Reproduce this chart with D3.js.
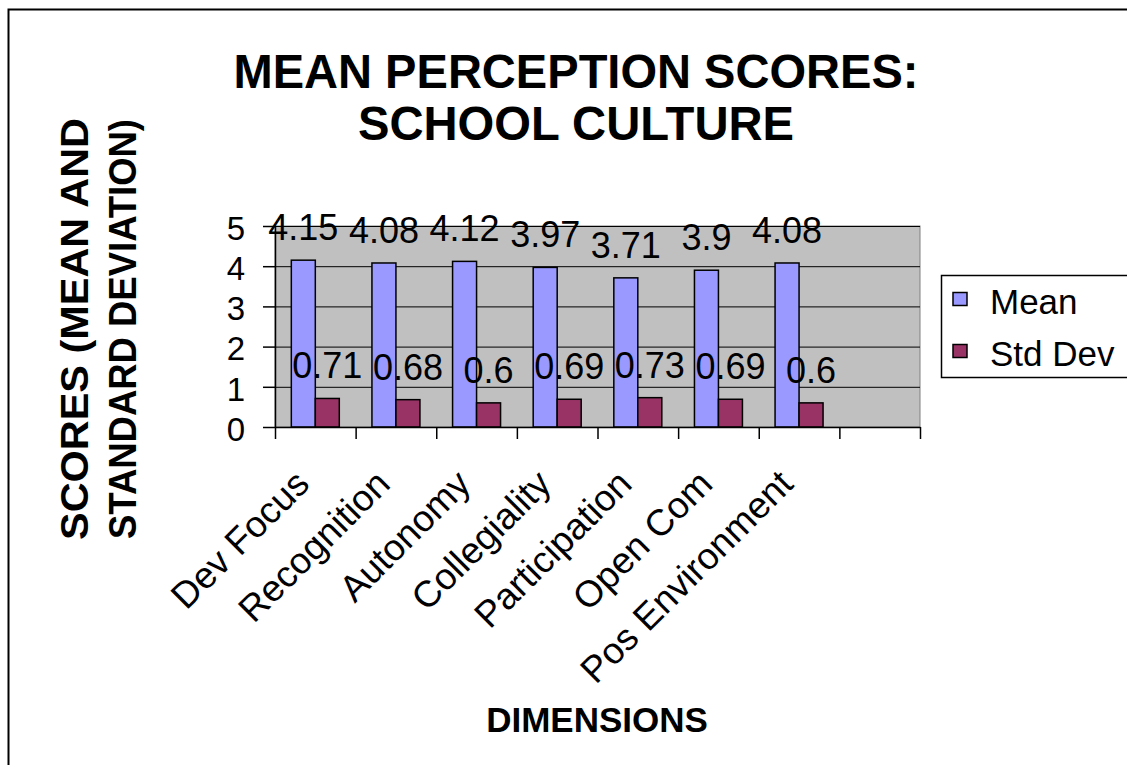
<!DOCTYPE html>
<html lang="en">
<head>
    <meta charset="UTF-8">
    <script src="https://d3js.org/d3.v7.min.js"></script>
    <title>Mean Perception Scores: School Culture</title>
    <style>
        body { margin: 0; background: #fff; }
        text { font-family: "Liberation Sans", Arial, sans-serif; fill: #000; }
    </style>
</head>
<body>
    <div id="container"></div>

    <script type="text/javascript">

        // chart values
        const categories = ["Dev Focus", "Recognition", "Autonomy", "Collegiality", "Participation", "Open Com", "Pos Environment"];
        const meanValues = [4.15, 4.08, 4.12, 3.97, 3.71, 3.9, 4.08];
        const stdValues = [0.71, 0.68, 0.6, 0.69, 0.73, 0.69, 0.6];
        const seriesNames = ["Mean", "Std Dev"];
        const seriesColors = ["#9999FF", "#993366"];
        const yTicks = [0, 1, 2, 3, 4, 5];

        const w = 1127, h = 765;
        const plot = { left: 275, right: 920, top: 226, bottom: 427 };

        const svg = d3.select("#container")
            .append("svg")
            .attr("width", w)
            .attr("height", h)
            .style("display", "block");

        // outer frame (right and bottom edges run off the page)
        svg.append("rect")
            .attr("x", 8.5)
            .attr("y", 9.5)
            .attr("width", 1140)
            .attr("height", 780)
            .attr("fill", "none")
            .attr("stroke", "#000")
            .attr("stroke-width", 2);

        // title
        svg.append("text")
            .attr("x", 576)
            .attr("y", 88)
            .attr("text-anchor", "middle")
            .style("font-size", "48px")
            .style("font-weight", "bold")
            .attr("textLength", 685)
            .attr("lengthAdjust", "spacingAndGlyphs")
            .text("MEAN PERCEPTION SCORES:");

        svg.append("text")
            .attr("x", 576)
            .attr("y", 140)
            .attr("text-anchor", "middle")
            .style("font-size", "48px")
            .style("font-weight", "bold")
            .attr("textLength", 436)
            .attr("lengthAdjust", "spacingAndGlyphs")
            .text("SCHOOL CULTURE");

        // scales: one empty slot after the last category
        const slots = categories.concat([""]);
        const x0 = d3.scaleBand()
            .domain(slots)
            .range([plot.left, plot.right]);

        const x1 = d3.scaleBand()
            .domain(seriesNames)
            .range([0, x0.bandwidth()])
            .paddingOuter(0.68);

        const y = d3.scaleLinear()
            .domain([0, 5])
            .range([plot.bottom, plot.top]);

        const color = d3.scaleOrdinal().domain(seriesNames).range(seriesColors);

        // plot area background
        svg.append("rect")
            .attr("x", plot.left)
            .attr("y", plot.top)
            .attr("width", plot.right - plot.left)
            .attr("height", plot.bottom - plot.top)
            .attr("fill", "#C0C0C0")
            .attr("stroke", "#808080");

        // gridlines
        svg.append("g")
            .selectAll("line")
            .data(yTicks.filter(d => d > 0))
            .enter()
            .append("line")
            .attr("x1", plot.left)
            .attr("x2", plot.right)
            .attr("y1", d => y(d) + 0.5)
            .attr("y2", d => y(d) + 0.5)
            .attr("stroke", "#000");

        // bars
        const rows = categories.map((c, i) => ({ cat: c, values: [meanValues[i], stdValues[i]] }));

        const groups = svg.append("g")
            .selectAll("g")
            .data(rows)
            .enter()
            .append("g")
            .attr("transform", d => "translate(" + x0(d.cat) + ",0)");

        const cells = groups.selectAll("g")
            .data(d => d.values.map((v, k) => ({ key: seriesNames[k], value: v })))
            .enter()
            .append("g");

        cells.append("rect")
            .attr("x", d => x1(d.key))
            .attr("y", d => y(d.value))
            .attr("width", x1.bandwidth())
            .attr("height", d => y(0) - y(d.value))
            .attr("fill", d => color(d.key))
            .attr("stroke", "#000")
            .attr("stroke-width", 1.5);

        cells.append("text")
            .attr("x", d => x1(d.key) + x1.bandwidth() / 2)
            .attr("y", d => y(d.value) - 20)
            .attr("text-anchor", "middle")
            .style("font-size", "36px")
            .text(d => String(d.value));

        // y axis
        const yAxis = d3.axisLeft(y)
            .tickValues(yTicks)
            .tickFormat(d3.format("d"))
            .tickSize(12)
            .tickSizeOuter(0)
            .tickPadding(18);

        svg.append("g")
            .attr("transform", "translate(" + plot.left + ",0)")
            .attr("id", "y-axis")
            .call(yAxis)
            .call(g => g.selectAll("text").style("font-size", "33px").attr("dy", "0.4em"))
            .call(g => g.selectAll("line, path").attr("stroke", "#000").attr("stroke-width", 1.5));

        // x axis: ticks at category boundaries
        const xEdges = d3.scaleLinear()
            .domain([0, slots.length])
            .range([plot.left, plot.right]);

        const xAxis = d3.axisBottom(xEdges)
            .tickValues(d3.range(slots.length + 1))
            .tickFormat("")
            .tickSize(12)
            .tickSizeOuter(0);

        svg.append("g")
            .attr("transform", "translate(0," + plot.bottom + ")")
            .attr("id", "x-axis")
            .call(xAxis)
            .call(g => g.selectAll("line, path").attr("stroke", "#000").attr("stroke-width", 1.5));

        // category labels
        svg.append("g")
            .selectAll("text")
            .data(categories)
            .enter()
            .append("text")
            .attr("text-anchor", "end")
            .attr("transform", d => "translate(" + (x0(d) + x0.bandwidth() / 2 - 4) + "," + 486 + ") rotate(-45)")
            .style("font-size", "37px")
            .text(d => d);

        // axis titles
        svg.append("text")
            .attr("x", 597)
            .attr("y", 732)
            .attr("text-anchor", "middle")
            .style("font-size", "35px")
            .style("font-weight", "bold")
            .text("DIMENSIONS");

        const yTitle = svg.append("g")
            .attr("transform", "translate(0,329) rotate(-90)");

        yTitle.append("text")
            .attr("x", 0)
            .attr("y", 88)
            .attr("text-anchor", "middle")
            .style("font-size", "38px")
            .style("font-weight", "bold")
            .attr("textLength", 422)
            .attr("lengthAdjust", "spacingAndGlyphs")
            .text("SCORES (MEAN AND");

        yTitle.append("text")
            .attr("x", 0)
            .attr("y", 136)
            .attr("text-anchor", "middle")
            .style("font-size", "38px")
            .style("font-weight", "bold")
            .attr("textLength", 420)
            .attr("lengthAdjust", "spacingAndGlyphs")
            .text("STANDARD DEVIATION)");

        // legend
        const legend = svg.append("g");

        legend.append("rect")
            .attr("x", 941.5)
            .attr("y", 275.5)
            .attr("width", 220)
            .attr("height", 102)
            .attr("fill", "#fff")
            .attr("stroke", "#000")
            .attr("stroke-width", 1.5);

        const items = legend.selectAll("g")
            .data(seriesNames)
            .enter()
            .append("g")
            .attr("transform", (d, i) => "translate(953," + (299 + i * 52) + ")");

        items.append("rect")
            .attr("x", 0)
            .attr("y", -6.5)
            .attr("width", 14)
            .attr("height", 13)
            .attr("fill", d => color(d))
            .attr("stroke", "#000")
            .attr("stroke-width", 1.5);

        items.append("text")
            .attr("x", 37)
            .attr("y", 15)
            .style("font-size", "35px")
            .text(d => d);

    </script>
</body>
</html>
